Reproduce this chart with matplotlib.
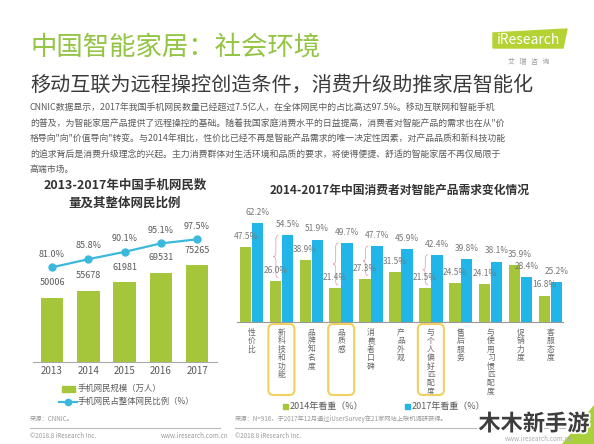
import matplotlib.pyplot as plt
import matplotlib.patheffects as pe
from matplotlib.patches import FancyBboxPatch, Polygon, Rectangle, PathPatch
from matplotlib.path import Path
from matplotlib.transforms import blended_transform_factory

plt.rcParams['font.family'] = ['Noto Sans CJK SC', 'DejaVu Sans']

W, H = 594, 444

# left chart: mobile internet users
years = ['2013', '2014', '2015', '2016', '2017']
mobile_users = [50006, 55678, 61981, 69531, 75265]
mobile_share = [81.0, 85.8, 90.1, 95.1, 97.5]

# right chart: what consumers value in smart products
factors = ['性价比', '新科技和功能', '品牌知名度', '品质感', '消费者口碑', '产品外观',
           '与个人偏好匹配度', '售后服务', '与使用习惯匹配度', '促销力度', '客服态度']
share_2014 = [47.5, 26.0, 38.9, 21.4, 27.3, 31.5, 21.5, 24.5, 24.1, 35.9, 16.8]
share_2017 = [62.2, 54.5, 51.9, 49.7, 47.7, 45.9, 42.4, 39.8, 38.1, 28.4, 25.2]
braced = ['新科技和功能', '品质感', '消费者口碑', '与个人偏好匹配度']
boxed = ['新科技和功能', '品质感', '与个人偏好匹配度']

paragraph = [
    'CNNIC数据显示，2017年我国手机网民数量已经超过7.5亿人，在全体网民中的占比高达97.5%。移动互联网和智能手机',
    '的普及，为智能家居产品提供了远程操控的基础。随着我国家庭消费水平的日益提高，消费者对智能产品的需求也在从"价',
    '格导向"向"价值导向"转变。与2014年相比，性价比已经不再是智能产品需求的唯一决定性因素，对产品品质和新科技功能',
    '的追求背后是消费升级理念的兴起。主力消费群体对生活环境和品质的要求，将使得便捷、舒适的智能家居不再仅局限于',
    '高端市场。',
]

GREEN = '#a5c63b'
BLUE = '#22b6e8'
LINE_BLUE = '#3cb8dc'
GRAY = '#5a5a5a'

fig = plt.figure(figsize=(W / 100, H / 100), dpi=100)


def px_axes(x0, y0, x1, y1):
    ax = fig.add_axes([x0 / W, 1 - y1 / H, (x1 - x0) / W, (y1 - y0) / H])
    ax.patch.set_alpha(0)
    return ax


# overlay in pixel coordinates for the page text
ov = fig.add_axes([0, 0, 1, 1])
ov.set_xlim(0, W)
ov.set_ylim(H, 0)
ov.axis('off')
ov.set_zorder(5)
ov.patch.set_alpha(0)

ov.text(30, 47, '中国智能家居：社会环境', fontsize=19, color='#93c443', va='center')
ov.text(30, 85, '移动互联为远程操控创造条件，消费升级助推家居智能化', fontsize=14.5,
        color='#3a3a3a', va='center')
for k, line in enumerate(paragraph):
    ov.text(30, 108.5 + 15.3 * k, line, fontsize=6.4, color=GRAY, va='center')

# logo
ov.add_patch(Polygon([(493, 33), (567, 29), (563, 48), (493, 48)], closed=True,
                     color='#b4d234', zorder=2))
ov.text(529, 40.5, 'iResearch', fontsize=10, color='white', ha='center', va='center', zorder=3)
ov.text(529, 62, '艾   瑞   咨   询', fontsize=5, color='#999999', ha='center', va='center')

# ---------- left chart ----------
ax1 = px_axes(33, 230, 217, 361.7)
x1 = list(range(len(years)))
ax1.bar(x1, mobile_users, width=0.62, color=GREEN, zorder=2)
for i, v in zip(x1, mobile_users):
    ax1.annotate(str(v), (i, v), xytext=(0, 10.8), textcoords='offset points',
                 ha='center', va='center', fontsize=6.5, color=GRAY)
ax1.set_xlim(-0.524, 4.55)
ax1.set_ylim(0, 103000)
ax1.set_xticks(x1)
ax1.set_xticklabels(years, fontsize=7, color=GRAY)
ax1.tick_params(axis='x', length=0, pad=3)
ax1.set_yticks([])
for s in ['top', 'left', 'right']:
    ax1.spines[s].set_visible(False)
ax1.spines['bottom'].set_color('#aaaaaa')
ax1.spines['bottom'].set_linewidth(0.8)

ax1b = ax1.twinx()
ax1b.patch.set_alpha(0)
ax1b.plot(x1, mobile_share, color=LINE_BLUE, lw=1.6, marker='o', ms=5, zorder=3)
for i, v in zip(x1, mobile_share):
    ax1b.annotate(f'{v:.1f}%', (i, v), xytext=(0, 9.5), textcoords='offset points',
                  ha='center', va='center', fontsize=6.5, color=GRAY)
ax1b.set_ylim(25.4, 103.0)
ax1b.axis('off')

ov.text(125, 185, '2013-2017年中国手机网民数', fontsize=9, fontweight='bold',
        color='#333333', ha='center', va='center')
ov.text(125, 203, '量及其整体网民比例', fontsize=9, fontweight='bold',
        color='#333333', ha='center', va='center')

ov.add_patch(Rectangle((62, 385.5), 13, 6, color=GREEN))
ov.text(78, 388.5, '手机网民规模（万人）', fontsize=6, color=GRAY, va='center')
ov.plot([59, 77], [401.7, 401.7], color=LINE_BLUE, lw=1.6)
ov.plot([68], [401.7], 'o', color=LINE_BLUE, ms=4.5)
ov.text(78, 401.7, '手机网民占整体网民比例（%）', fontsize=6, color=GRAY, va='center')

ov.text(30, 418.5, '来源：CNNIC。', fontsize=4.5, color='#999999', va='center')
ov.plot([30, 220], [428, 428], color='#bbbbbb', lw=0.8)
ov.text(30, 435.5, '©2018.8 iResearch Inc.', fontsize=4.5, color='#999999', va='center')
ov.text(228, 435.5, 'www.iresearch.com.cn', fontsize=4.5, color='#999999', va='center', ha='right')

# ---------- right chart ----------
ax2 = px_axes(236.7, 200, 563, 322.3)
x2 = list(range(len(factors)))
ax2.bar([i - 0.2 for i in x2], share_2014, width=0.385, color=GREEN, zorder=2)
ax2.bar([i + 0.2 for i in x2], share_2017, width=0.385, color=BLUE, zorder=2)
nudge = {9: 4}  # 促销力度 label sits a bit to the right, like the original
for i in x2:
    ax2.annotate(f'{share_2017[i]:.1f}%', (i + 0.2, share_2017[i]), xytext=(0, 7.6),
                 textcoords='offset points', ha='center', va='center', fontsize=6.0, color='#777777')
    ax2.annotate(f'{share_2014[i]:.1f}%', (i - 0.2, share_2014[i]), xytext=(nudge.get(i, 0), 7.6),
                 textcoords='offset points', ha='center', va='center', fontsize=6.0,
                 color='#777777', zorder=4)
ax2.set_xlim(-0.495, 10.42)
ax2.set_ylim(0, 76.7)
ax2.set_xticks([])
ax2.set_yticks([])
for s in ['top', 'left', 'right']:
    ax2.spines[s].set_visible(False)
ax2.spines['bottom'].set_color('#999999')
ax2.spines['bottom'].set_linewidth(0.8)

# curly braces marking the biggest jumps
for name in braced:
    i = factors.index(name)
    y0, y1 = share_2014[i] + 2, share_2017[i]
    ym = (y0 + y1) / 2
    d = 2.5
    xr, w = i - 0.1, 0.17
    xm, xl = xr - w / 2, xr - w
    verts = [(xr, y1), (xm, y1), (xm, y1 - d), (xm, ym + d), (xm, ym), (xl, ym),
             (xm, ym), (xm, ym - d), (xm, y0 + d), (xm, y0), (xr, y0)]
    codes = [Path.MOVETO, Path.CURVE3, Path.CURVE3, Path.LINETO, Path.CURVE3, Path.CURVE3,
             Path.CURVE3, Path.CURVE3, Path.LINETO, Path.CURVE3, Path.CURVE3]
    ax2.add_patch(PathPatch(Path(verts, codes), fill=False, ec='#e6a4ab', lw=0.6, zorder=3))

# vertical category labels
tr = blended_transform_factory(ax2.transData, ov.transData)
for i, name in enumerate(factors):
    for k, ch in enumerate(name):
        ax2.text(i, 333 + k * 8.4, ch, transform=tr, ha='center', va='center',
                 fontsize=5.6, color='#666666', clip_on=False)

for name in boxed:
    cx = ax2.transData.transform((factors.index(name), 0))[0]
    ov.add_patch(FancyBboxPatch((cx - 13, 324), 26, 71,
                                boxstyle='round,pad=0,rounding_size=5',
                                fill=False, ec='#f0d060', lw=1.5))

ov.text(400, 190, '2014-2017年中国消费者对智能产品需求变化情况', fontsize=8.5,
        fontweight='bold', color='#333333', ha='center', va='center')

ov.add_patch(Rectangle((283, 403.5), 5, 5, color=GREEN))
ov.text(290, 406, '2014年看重（%）', fontsize=6.5, color=GRAY, va='center')
ov.add_patch(Rectangle((405, 403.5), 5, 5, color=BLUE))
ov.text(412, 406, '2017年看重（%）', fontsize=6.5, color=GRAY, va='center')

ov.text(235, 419, '来源：N=916，于2017年12月通过iUserSurvey在21家网站上联机调研获得。',
        fontsize=4.5, color='#999999', va='center')
ov.plot([235, 565], [428, 428], color='#bbbbbb', lw=0.8)
ov.text(235, 435.5, '©2018.8 iResearch Inc.', fontsize=4.5, color='#999999', va='center')

# watermark in the corner
ov.add_patch(Polygon([(594, 405), (594, 444), (562, 444)], closed=True, color='#a9cf3c'))
ov.text(572, 439, 'www.iresearch.com.cn', fontsize=4.5, color='#aaaaaa', ha='right', va='center')
ov.text(534, 424, '木木新手游', fontsize=16, fontweight='bold', color='#3d3d3d',
        ha='center', va='center',
        path_effects=[pe.withStroke(linewidth=2.5, foreground='white')])

fig.savefig('out.png', dpi=100)
